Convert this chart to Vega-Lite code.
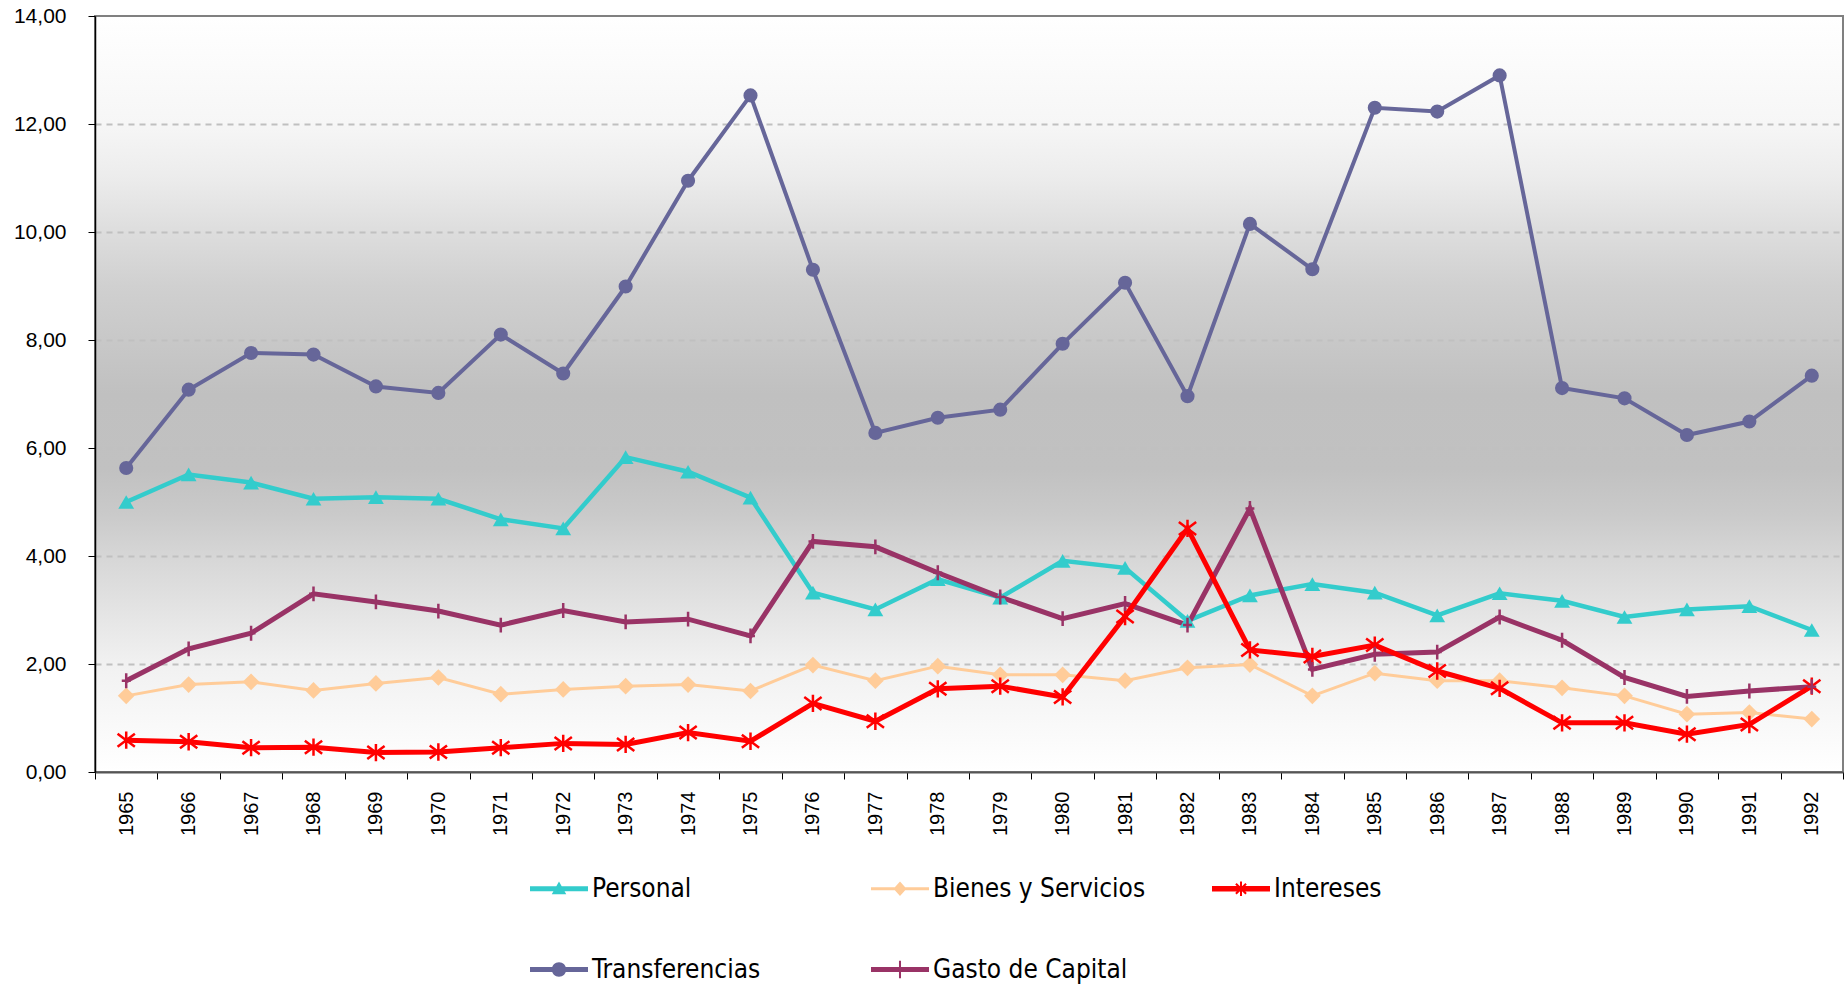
{
  "$schema": "https://vega.github.io/schema/vega-lite/v6.json",
  "width": 1748,
  "height": 756,
  "autosize": {"type": "none"},
  "padding": {"left": 95, "top": 16, "right": 2, "bottom": 216},
  "background": "white",
  "view": {
    "fill": {"gradient": "linear", "x1": 0, "y1": 0, "x2": 0, "y2": 1, "stops": [
      {"offset": 0, "color": "#ffffff"},
      {"offset": 0.143, "color": "#f6f6f6"},
      {"offset": 0.214, "color": "#ececec"},
      {"offset": 0.286, "color": "#dddddd"},
      {"offset": 0.357, "color": "#d0d0d0"},
      {"offset": 0.429, "color": "#c8c8c8"},
      {"offset": 0.5, "color": "#c0c0c0"},
      {"offset": 0.6, "color": "#c1c1c1"},
      {"offset": 0.66, "color": "#cacaca"},
      {"offset": 0.714, "color": "#d6d6d6"},
      {"offset": 0.857, "color": "#f1f1f1"},
      {"offset": 1, "color": "#ffffff"}
    ]},
    "stroke": "#808080",
    "strokeWidth": 2
  },
  "data": {"values": [
    {"year": "1965", "serie": "Personal", "value": 5.00},
    {"year": "1966", "serie": "Personal", "value": 5.51},
    {"year": "1967", "serie": "Personal", "value": 5.36},
    {"year": "1968", "serie": "Personal", "value": 5.06},
    {"year": "1969", "serie": "Personal", "value": 5.09},
    {"year": "1970", "serie": "Personal", "value": 5.06},
    {"year": "1971", "serie": "Personal", "value": 4.68},
    {"year": "1972", "serie": "Personal", "value": 4.51},
    {"year": "1973", "serie": "Personal", "value": 5.83},
    {"year": "1974", "serie": "Personal", "value": 5.56},
    {"year": "1975", "serie": "Personal", "value": 5.08},
    {"year": "1976", "serie": "Personal", "value": 3.32},
    {"year": "1977", "serie": "Personal", "value": 3.01},
    {"year": "1978", "serie": "Personal", "value": 3.57},
    {"year": "1979", "serie": "Personal", "value": 3.23},
    {"year": "1980", "serie": "Personal", "value": 3.91},
    {"year": "1981", "serie": "Personal", "value": 3.78},
    {"year": "1982", "serie": "Personal", "value": 2.80},
    {"year": "1983", "serie": "Personal", "value": 3.27},
    {"year": "1984", "serie": "Personal", "value": 3.48},
    {"year": "1985", "serie": "Personal", "value": 3.32},
    {"year": "1986", "serie": "Personal", "value": 2.90},
    {"year": "1987", "serie": "Personal", "value": 3.31},
    {"year": "1988", "serie": "Personal", "value": 3.17},
    {"year": "1989", "serie": "Personal", "value": 2.87},
    {"year": "1990", "serie": "Personal", "value": 3.01},
    {"year": "1991", "serie": "Personal", "value": 3.07},
    {"year": "1992", "serie": "Personal", "value": 2.63},
    {"year": "1965", "serie": "Bienes y Servicios", "value": 1.41},
    {"year": "1966", "serie": "Bienes y Servicios", "value": 1.62},
    {"year": "1967", "serie": "Bienes y Servicios", "value": 1.67},
    {"year": "1968", "serie": "Bienes y Servicios", "value": 1.51},
    {"year": "1969", "serie": "Bienes y Servicios", "value": 1.64},
    {"year": "1970", "serie": "Bienes y Servicios", "value": 1.75},
    {"year": "1971", "serie": "Bienes y Servicios", "value": 1.44},
    {"year": "1972", "serie": "Bienes y Servicios", "value": 1.53},
    {"year": "1973", "serie": "Bienes y Servicios", "value": 1.59},
    {"year": "1974", "serie": "Bienes y Servicios", "value": 1.62},
    {"year": "1975", "serie": "Bienes y Servicios", "value": 1.50},
    {"year": "1976", "serie": "Bienes y Servicios", "value": 1.98},
    {"year": "1977", "serie": "Bienes y Servicios", "value": 1.69},
    {"year": "1978", "serie": "Bienes y Servicios", "value": 1.96},
    {"year": "1979", "serie": "Bienes y Servicios", "value": 1.80},
    {"year": "1980", "serie": "Bienes y Servicios", "value": 1.80},
    {"year": "1981", "serie": "Bienes y Servicios", "value": 1.69},
    {"year": "1982", "serie": "Bienes y Servicios", "value": 1.93},
    {"year": "1983", "serie": "Bienes y Servicios", "value": 1.99},
    {"year": "1984", "serie": "Bienes y Servicios", "value": 1.41},
    {"year": "1985", "serie": "Bienes y Servicios", "value": 1.83},
    {"year": "1986", "serie": "Bienes y Servicios", "value": 1.69},
    {"year": "1987", "serie": "Bienes y Servicios", "value": 1.69},
    {"year": "1988", "serie": "Bienes y Servicios", "value": 1.56},
    {"year": "1989", "serie": "Bienes y Servicios", "value": 1.41},
    {"year": "1990", "serie": "Bienes y Servicios", "value": 1.07},
    {"year": "1991", "serie": "Bienes y Servicios", "value": 1.10},
    {"year": "1992", "serie": "Bienes y Servicios", "value": 0.98},
    {"year": "1965", "serie": "Intereses", "value": 0.59},
    {"year": "1966", "serie": "Intereses", "value": 0.56},
    {"year": "1967", "serie": "Intereses", "value": 0.45},
    {"year": "1968", "serie": "Intereses", "value": 0.46},
    {"year": "1969", "serie": "Intereses", "value": 0.36},
    {"year": "1970", "serie": "Intereses", "value": 0.37},
    {"year": "1971", "serie": "Intereses", "value": 0.45},
    {"year": "1972", "serie": "Intereses", "value": 0.53},
    {"year": "1973", "serie": "Intereses", "value": 0.51},
    {"year": "1974", "serie": "Intereses", "value": 0.73},
    {"year": "1975", "serie": "Intereses", "value": 0.57},
    {"year": "1976", "serie": "Intereses", "value": 1.27},
    {"year": "1977", "serie": "Intereses", "value": 0.94},
    {"year": "1978", "serie": "Intereses", "value": 1.54},
    {"year": "1979", "serie": "Intereses", "value": 1.59},
    {"year": "1980", "serie": "Intereses", "value": 1.39},
    {"year": "1981", "serie": "Intereses", "value": 2.88},
    {"year": "1982", "serie": "Intereses", "value": 4.51},
    {"year": "1983", "serie": "Intereses", "value": 2.26},
    {"year": "1984", "serie": "Intereses", "value": 2.14},
    {"year": "1985", "serie": "Intereses", "value": 2.35},
    {"year": "1986", "serie": "Intereses", "value": 1.87},
    {"year": "1987", "serie": "Intereses", "value": 1.55},
    {"year": "1988", "serie": "Intereses", "value": 0.91},
    {"year": "1989", "serie": "Intereses", "value": 0.91},
    {"year": "1990", "serie": "Intereses", "value": 0.70},
    {"year": "1991", "serie": "Intereses", "value": 0.88},
    {"year": "1992", "serie": "Intereses", "value": 1.59},
    {"year": "1965", "serie": "Transferencias", "value": 5.63},
    {"year": "1966", "serie": "Transferencias", "value": 7.08},
    {"year": "1967", "serie": "Transferencias", "value": 7.76},
    {"year": "1968", "serie": "Transferencias", "value": 7.73},
    {"year": "1969", "serie": "Transferencias", "value": 7.14},
    {"year": "1970", "serie": "Transferencias", "value": 7.02},
    {"year": "1971", "serie": "Transferencias", "value": 8.10},
    {"year": "1972", "serie": "Transferencias", "value": 7.38},
    {"year": "1973", "serie": "Transferencias", "value": 8.99},
    {"year": "1974", "serie": "Transferencias", "value": 10.95},
    {"year": "1975", "serie": "Transferencias", "value": 12.53},
    {"year": "1976", "serie": "Transferencias", "value": 9.30},
    {"year": "1977", "serie": "Transferencias", "value": 6.28},
    {"year": "1978", "serie": "Transferencias", "value": 6.56},
    {"year": "1979", "serie": "Transferencias", "value": 6.71},
    {"year": "1980", "serie": "Transferencias", "value": 7.93},
    {"year": "1981", "serie": "Transferencias", "value": 9.06},
    {"year": "1982", "serie": "Transferencias", "value": 6.96},
    {"year": "1983", "serie": "Transferencias", "value": 10.15},
    {"year": "1984", "serie": "Transferencias", "value": 9.31},
    {"year": "1985", "serie": "Transferencias", "value": 12.30},
    {"year": "1986", "serie": "Transferencias", "value": 12.23},
    {"year": "1987", "serie": "Transferencias", "value": 12.90},
    {"year": "1988", "serie": "Transferencias", "value": 7.11},
    {"year": "1989", "serie": "Transferencias", "value": 6.92},
    {"year": "1990", "serie": "Transferencias", "value": 6.24},
    {"year": "1991", "serie": "Transferencias", "value": 6.49},
    {"year": "1992", "serie": "Transferencias", "value": 7.34},
    {"year": "1965", "serie": "Gasto de Capital", "value": 1.69},
    {"year": "1966", "serie": "Gasto de Capital", "value": 2.28},
    {"year": "1967", "serie": "Gasto de Capital", "value": 2.57},
    {"year": "1968", "serie": "Gasto de Capital", "value": 3.30},
    {"year": "1969", "serie": "Gasto de Capital", "value": 3.15},
    {"year": "1970", "serie": "Gasto de Capital", "value": 2.98},
    {"year": "1971", "serie": "Gasto de Capital", "value": 2.72},
    {"year": "1972", "serie": "Gasto de Capital", "value": 2.99},
    {"year": "1973", "serie": "Gasto de Capital", "value": 2.78},
    {"year": "1974", "serie": "Gasto de Capital", "value": 2.83},
    {"year": "1975", "serie": "Gasto de Capital", "value": 2.52},
    {"year": "1976", "serie": "Gasto de Capital", "value": 4.27},
    {"year": "1977", "serie": "Gasto de Capital", "value": 4.17},
    {"year": "1978", "serie": "Gasto de Capital", "value": 3.69},
    {"year": "1979", "serie": "Gasto de Capital", "value": 3.24},
    {"year": "1980", "serie": "Gasto de Capital", "value": 2.84},
    {"year": "1981", "serie": "Gasto de Capital", "value": 3.12},
    {"year": "1982", "serie": "Gasto de Capital", "value": 2.72},
    {"year": "1983", "serie": "Gasto de Capital", "value": 4.88},
    {"year": "1984", "serie": "Gasto de Capital", "value": 1.90},
    {"year": "1985", "serie": "Gasto de Capital", "value": 2.18},
    {"year": "1986", "serie": "Gasto de Capital", "value": 2.22},
    {"year": "1987", "serie": "Gasto de Capital", "value": 2.87},
    {"year": "1988", "serie": "Gasto de Capital", "value": 2.44},
    {"year": "1989", "serie": "Gasto de Capital", "value": 1.75},
    {"year": "1990", "serie": "Gasto de Capital", "value": 1.40},
    {"year": "1991", "serie": "Gasto de Capital", "value": 1.50},
    {"year": "1992", "serie": "Gasto de Capital", "value": 1.58}
  ]},
  "encoding": {
    "x": {
      "field": "year", "type": "ordinal", "bandPosition": 0.5,
      "scale": {"type": "band", "paddingInner": 0, "paddingOuter": 0},
      "axis": {
        "title": null, "tickBand": "extent", "labelAngle": 270, "labelAlign": "right", "labelBaseline": "middle",
        "labelFont": "Liberation Sans", "labelFontSize": 20, "labelColor": "black", "labelPadding": 12,
        "tickSize": 7, "tickColor": "black", "tickWidth": 1, "domainColor": "#555555", "domainWidth": 2, "grid": false
      }
    },
    "y": {
      "field": "value", "type": "quantitative",
      "scale": {"domain": [0, 14], "nice": false, "zero": true},
      "axis": {
        "title": null, "values": [0, 2, 4, 6, 8, 10, 12, 14],
        "labelExpr": "replace(format(datum.value, '.2f'), '.', ',')",
        "labelFont": "Liberation Sans", "labelFontSize": 21, "labelColor": "black", "labelPadding": 22,
        "tickSize": 7, "tickColor": "black", "tickWidth": 1, "domainColor": "black", "domainWidth": 1.5,
        "grid": true, "gridDash": [6, 5], "gridWidth": 2,
        "gridColor": {"condition": {"test": "datum.value == 0 || datum.value == 14", "value": "transparent"}, "value": "#c0c0c0"}
      }
    }
  },
  "layer": [
    {
      "transform": [{"filter": "datum.serie == 'Bienes y Servicios'"}],
      "mark": {"type": "line", "color": "#FFCC99", "strokeWidth": 3}
    },
    {
      "transform": [{"filter": "datum.serie == 'Personal'"}],
      "mark": {"type": "line", "color": "#33CCCC", "strokeWidth": 4.5}
    },
    {
      "transform": [{"filter": "datum.serie == 'Transferencias'"}],
      "mark": {"type": "line", "color": "#666699", "strokeWidth": 4}
    },
    {
      "transform": [{"filter": "datum.serie == 'Gasto de Capital'"}],
      "mark": {"type": "line", "color": "#993366", "strokeWidth": 5}
    },
    {
      "transform": [{"filter": "datum.serie == 'Intereses'"}],
      "mark": {"type": "line", "color": "#FF0000", "strokeWidth": 5}
    },
    {
      "transform": [{"filter": "datum.serie == 'Personal'"}],
      "mark": {"type": "point", "shape": "triangle-up", "filled": true, "size": 250, "color": "#33CCCC", "opacity": 1}
    },
    {
      "transform": [{"filter": "datum.serie == 'Bienes y Servicios'"}],
      "mark": {"type": "point", "shape": "diamond", "filled": true, "size": 280, "color": "#FFCC99", "opacity": 1}
    },
    {
      "transform": [{"filter": "datum.serie == 'Transferencias'"}],
      "mark": {"type": "point", "shape": "circle", "filled": true, "size": 200, "color": "#666699", "opacity": 1}
    },
    {
      "transform": [{"filter": "datum.serie == 'Intereses'"}],
      "mark": {"type": "point", "shape": "M-1,-0.75L1,0.75M-1,0.75L1,-0.75M0,-1V1", "filled": false, "size": 300, "color": "#FF0000", "strokeWidth": 2.5, "opacity": 1}
    },
    {
      "transform": [{"filter": "datum.serie == 'Gasto de Capital'"}],
      "mark": {"type": "point", "shape": "M-0.6,0H0.6M0,-1V1", "filled": false, "size": 220, "color": "#993366", "strokeWidth": 2.5, "opacity": 1}
    },
    {
      "transform": [{"filter": "datum.value < 0"}],
      "mark": {"type": "point", "filled": true, "opacity": 1},
      "encoding": {
        "color": {"field": "serie", "type": "nominal",
          "scale": {"domain": ["Personal", "Bienes y Servicios", "Intereses", "Transferencias", "Gasto de Capital"],
                    "range": ["#33CCCC", "#FFCC99", "#FF0000", "#666699", "#993366"]},
          "legend": {"title": null, "orient": "none", "legendX": 435, "legendY": 858, "direction": "horizontal", "columns": 3,
            "symbolSize": 841, "symbolOffset": 14.5, "labelOffset": 18.5, "symbolStrokeWidth": 0, "symbolOpacity": 1,
            "labelFont": "DejaVu Sans Condensed, Liberation Sans, sans-serif", "labelFontSize": 26, "labelColor": "black", "labelLimit": 400,
            "columnPadding": 66, "rowPadding": 53, "gridAlign": "all", "padding": 0}},
        "shape": {"field": "serie", "type": "nominal",
          "scale": {"domain": ["Personal", "Bienes y Servicios", "Intereses", "Transferencias", "Gasto de Capital"],
                    "range": [
                      "M-2,-0.17H2V0.17H-2Z M0,-0.5L0.5,0.38L-0.5,0.38Z",
                      "M-2,-0.1H2V0.1H-2Z M0,-0.5L0.45,0L0,0.5L-0.45,0Z",
                      "M-2,-0.19H2V0.19H-2Z M-0.3,-0.4L0.4,0.3L0.3,0.4L-0.4,-0.3Z M0.3,-0.4L0.4,-0.3L-0.3,0.4L-0.4,0.3Z M-0.07,-0.5H0.07V0.5H-0.07Z",
                      "M-2,-0.17H2V0.17H-2Z M-0.5,0A0.5,0.5 0 1,1 0.5,0A0.5,0.5 0 1,1 -0.5,0Z",
                      "M-2,-0.17H2V0.17H-2Z M-0.07,-0.6H0.07V0.6H-0.07Z"
                    ]},
          "legend": {"title": null, "orient": "none", "legendX": 435, "legendY": 858, "direction": "horizontal", "columns": 3,
            "symbolSize": 841, "symbolOffset": 14.5, "labelOffset": 18.5, "symbolStrokeWidth": 0, "symbolOpacity": 1,
            "labelFont": "DejaVu Sans Condensed, Liberation Sans, sans-serif", "labelFontSize": 26, "labelColor": "black", "labelLimit": 400,
            "columnPadding": 66, "rowPadding": 53, "gridAlign": "all", "padding": 0}}
      }
    }
  ]
}
